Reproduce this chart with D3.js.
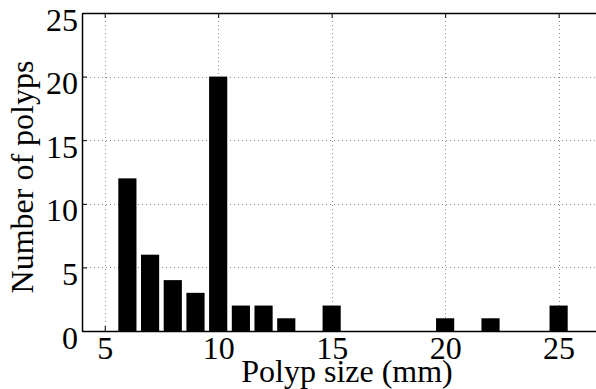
<!DOCTYPE html>
<html>
<head>
<meta charset="utf-8">
<script src="https://cdn.jsdelivr.net/npm/d3@7"></script>
<style>
  html, body { margin: 0; padding: 0; background: #fff; }
  svg { display: block; }
  text { font-family: "Liberation Serif", "Times New Roman", serif; fill: #000; }
</style>
</head>
<body>
<svg id="chart" width="596" height="389"></svg>
<script>
// Polyp size histogram data
const sizes  = [6, 7, 8, 9, 10, 11, 12, 13, 15, 20, 22, 25];
const counts = [12, 6, 4, 3, 20, 2, 2, 1, 2, 1, 1, 2];
const xTicks = [5, 10, 15, 20, 25];
const yTicks = [0, 5, 10, 15, 20, 25];

const FONT = '"Liberation Serif", "Times New Roman", serif';
const FS = "32px";

const svg = d3.select("#chart");
const box = { left: 82, top: 13, right: 604, bottom: 331 };

const x = d3.scaleLinear().domain([4, 27]).range([box.left, box.right]);
const y = d3.scaleLinear().domain([0, 25]).range([box.bottom, box.top]);
const barW = x(0.8) - x(0);

// dotted grid
const grid = svg.append("g").attr("stroke", "#888").attr("stroke-width", 1)
  .attr("stroke-dasharray", "1,3");
grid.selectAll(".gx").data(xTicks).join("line")
  .attr("x1", d => Math.round(x(d)) + 0.5).attr("x2", d => Math.round(x(d)) + 0.5)
  .attr("y1", box.top).attr("y2", box.bottom);
grid.selectAll(".gy").data(yTicks.filter(d => d > 0 && d < 25)).join("line")
  .attr("y1", d => Math.round(y(d)) + 0.5).attr("y2", d => Math.round(y(d)) + 0.5)
  .attr("x1", box.left).attr("x2", 596);

// bars
svg.append("g").selectAll("rect").data(sizes).join("rect")
  .attr("x", d => x(d) - barW / 2)
  .attr("width", barW)
  .attr("y", (d, i) => y(counts[i]))
  .attr("height", (d, i) => y(0) - y(counts[i]))
  .attr("fill", "#000");

// axes with inward ticks
const xAxisB = d3.axisBottom(x).tickValues(xTicks).tickSizeInner(-5).tickSizeOuter(0);
const xAxisT = d3.axisTop(x).tickValues(xTicks).tickSizeInner(-5).tickSizeOuter(0).tickFormat("");
const yAxisL = d3.axisLeft(y).tickValues(yTicks).tickSizeInner(-5).tickSizeOuter(0);

const gb = svg.append("g").attr("transform", `translate(0,${box.bottom})`).call(xAxisB);
const gt = svg.append("g").attr("transform", `translate(0,${box.top})`).call(xAxisT);
const gl = svg.append("g").attr("transform", `translate(${box.left},0)`).call(yAxisL);

[gb, gt, gl].forEach(g => {
  g.attr("font-family", null).attr("font-size", null);
  g.select(".domain").attr("stroke", "#000").attr("stroke-width", 1.5);
  g.selectAll(".tick line").attr("stroke", "#000");
  g.selectAll("text").style("font-family", FONT).style("font-size", FS).attr("fill", "#000");
});
gl.selectAll(".tick text").attr("x", -4).attr("dy", "17px");
gb.selectAll(".tick text").attr("y", 28).attr("dy", 0);

// axis titles
svg.append("text")
  .attr("x", 347).attr("y", 382)
  .attr("text-anchor", "middle")
  .style("font-family", FONT).style("font-size", FS)
  .text("Polyp size (mm)");

svg.append("text")
  .attr("transform", "translate(33,177) rotate(-90)")
  .attr("text-anchor", "middle")
  .style("font-family", FONT).style("font-size", FS)
  .text("Number of polyps");
</script>
</body>
</html>
